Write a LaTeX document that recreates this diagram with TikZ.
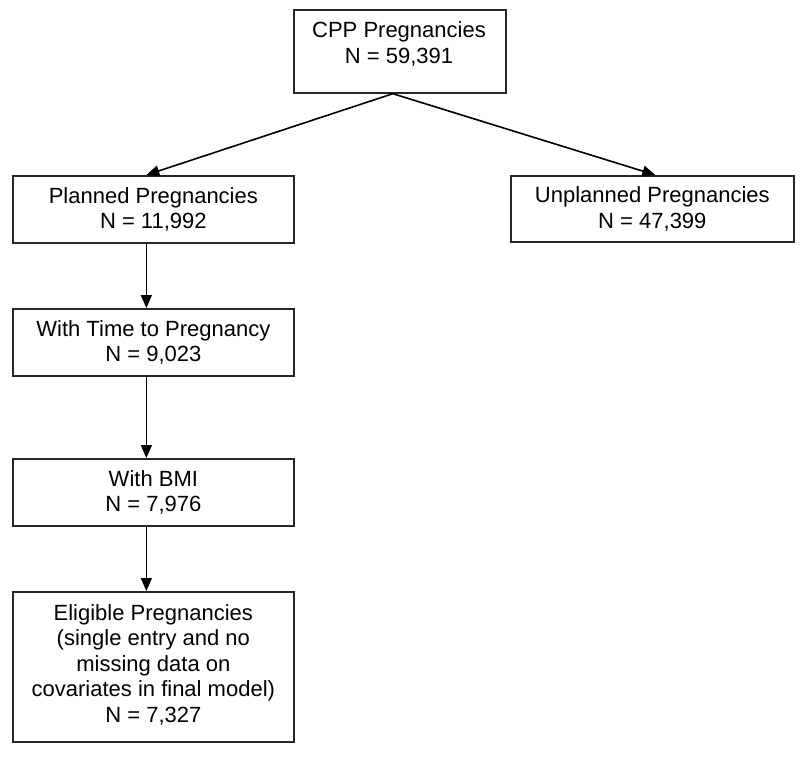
\documentclass[tikz,border=0pt]{standalone}
\usepackage{fontspec}
\setmainfont{Liberation Sans}
\usetikzlibrary{arrows.meta,calc}
\begin{document}
\begin{tikzpicture}[x=1pt,y=-1pt,
  box/.style={draw=black!85, line width=1.7pt, rectangle, anchor=north west, inner sep=0pt},
  lbl/.style={align=center, font=\fontsize{22}{25.5}\selectfont, inner sep=0pt},
  arr/.style={draw=black, line width=1.6pt, -{Triangle[length=13pt,width=11pt]}}]
\useasboundingbox (0,0) rectangle (800,756);
\fill[white] (0,0) rectangle (800,756);
\node[box, minimum width=212pt, minimum height=83pt] (cpp) at (293,9) {};
\node[lbl] (cppt) at (399,44) {CPP Pregnancies\\N = 59,391};
\node[box, minimum width=281pt, minimum height=67pt] (planned) at (12,175) {};
\node[lbl] at (planned.center) {Planned Pregnancies\\N = 11,992};
\node[box, minimum width=283pt, minimum height=66pt] (unplanned) at (510,175) {};
\node[lbl] at (unplanned.center) {Unplanned Pregnancies\\N = 47,399};
\node[box, minimum width=281pt, minimum height=67pt] (time) at (12,308) {};
\node[lbl] at (time.center) {With Time to Pregnancy\\N = 9,023};
\node[box, minimum width=281pt, minimum height=67pt] (bmi) at (12,458) {};
\node[lbl] at (bmi.center) {With BMI\\N = 7,976};
\node[box, minimum width=281pt, minimum height=150pt] (elig) at (12,591) {};
\node[lbl] at ($(elig.center)+(0,-2)$) {Eligible Pregnancies\\(single entry and no\\missing data on\\covariates in final model)\\N = 7,327};
\draw[arr] ($(cpp.south)+(-7,0)$) -- ($(planned.north)+(-7,0)$);
\draw[arr] ($(cpp.south)+(-7,0)$) -- ($(unplanned.north)+(3,0)$);
\draw[arr] ($(planned.south)+(-7,0)$) -- ($(time.north)+(-7,0)$);
\draw[arr] ($(time.south)+(-7,0)$) -- ($(bmi.north)+(-7,0)$);
\draw[arr] ($(bmi.south)+(-7,0)$) -- ($(elig.north)+(-7,0)$);
\end{tikzpicture}
\end{document}
